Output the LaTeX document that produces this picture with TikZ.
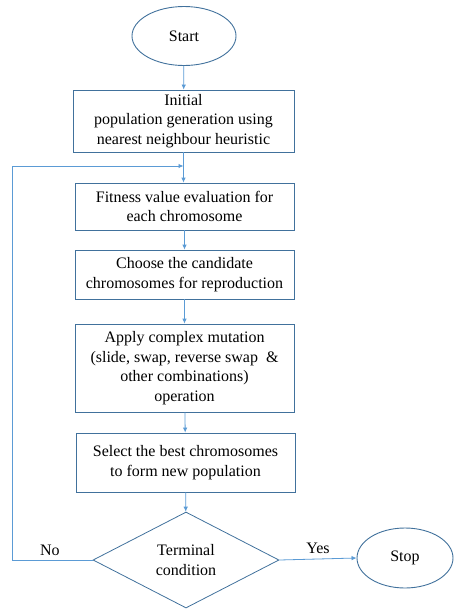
\documentclass[tikz,border=0pt]{standalone}
\usepackage{fontspec}
\setmainfont{Liberation Serif}
\usetikzlibrary{positioning,arrows.meta,shapes.geometric}
\definecolor{boxblue}{RGB}{65,113,156}
\definecolor{linkblue}{RGB}{91,155,213}

\begin{document}
\begin{tikzpicture}[>=Latex,x=1pt,y=-1pt,
    font=\rmfamily\fontsize{16}{19.5}\selectfont,
    stepbox/.style={draw=boxblue,line width=0.8pt,align=center,inner sep=0pt},
    termbox/.style={ellipse,draw=boxblue,line width=0.9pt,inner sep=0pt},
    flow/.style={->,draw=linkblue,line width=0.8pt,>={Latex[length=5pt,width=4.5pt]}}]
  \useasboundingbox (0,0) rectangle (454,611);
  \node[termbox,minimum width=104pt,minimum height=59pt] (start) at (184,36) {Start};
  \node[stepbox,minimum width=221pt,minimum height=62pt] (init) at (183.5,121)
    {Initial\\population generation using\\nearest neighbour heuristic};
  \node[stepbox,minimum width=219pt,minimum height=47pt] (fit) at (184.5,206.5)
    {Fitness value evaluation for\\each chromosome};
  \node[stepbox,minimum width=219pt,minimum height=49pt] (choose) at (184.5,274.5)
    {Choose the candidate\\chromosomes for reproduction};
  \node[stepbox,minimum width=219pt,minimum height=88pt] (mutate) at (184.5,368)
    {Apply complex mutation\\(slide, swap, reverse swap \ \&\\other combinations)\\operation};
  \node[stepbox,minimum width=219pt,minimum height=59pt] (select) at (185.5,462.5)
    {Select the best chromosomes\\to form new population};
  \node[diamond,draw=boxblue,line width=0.8pt,minimum width=186pt,minimum height=96pt,
    inner sep=0pt,align=center] (term) at (186,560) {Terminal\\condition};
  \node[termbox,minimum width=96pt,minimum height=60pt] (stop) at (405,558) {Stop};
  \coordinate (join) at (183.5,166);
  % main path
  \draw[flow] (start) -- (init);
  \draw[flow] (init.south) -- (init.south |- fit.north);
  \draw[flow] (fit) -- (choose);
  \draw[flow] (choose) -- (mutate);
  \draw[flow] (mutate) -- (select);
  \draw[flow] (select) -- (term);
  % exits
  \draw[flow] (term.east) -- (stop.west) node[midway,above=2pt] {Yes};
  \draw[flow] (term.west) -- (12,560) node[pos=0.53,above=1pt] {No} |- (join);
\end{tikzpicture}
\end{document}
